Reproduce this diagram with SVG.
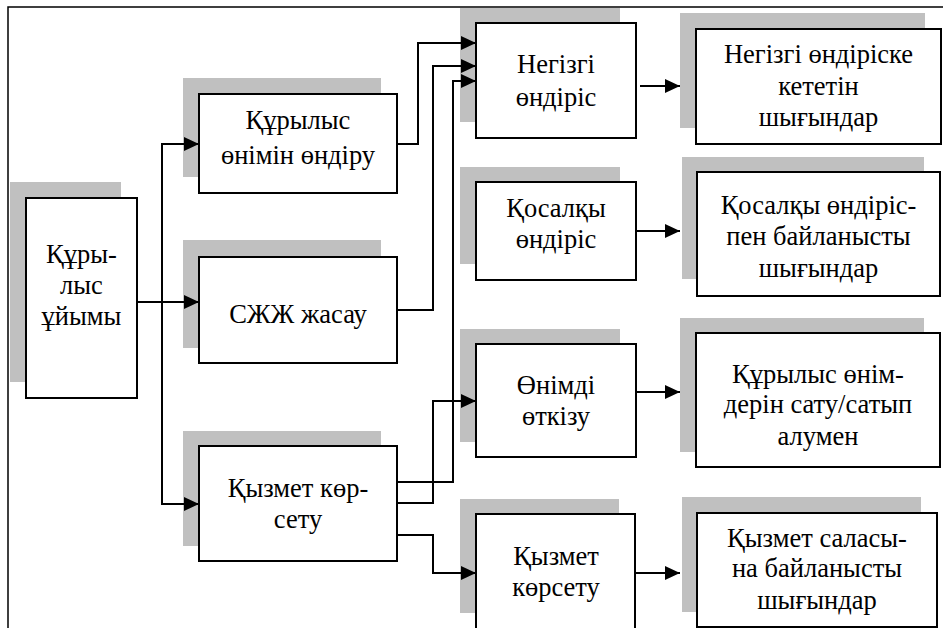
<svg xmlns="http://www.w3.org/2000/svg" width="943" height="628" viewBox="0 0 943 628">
<defs>
<marker id="ah" markerUnits="userSpaceOnUse" markerWidth="16" markerHeight="14" refX="15" refY="7" orient="auto">
<path d="M0,0 L15,7 L0,14 Z" fill="#000"/>
</marker>
<style>
.sh{fill:#c0c0c0;stroke:none}
.bx{fill:#fff;stroke:#000;stroke-width:2}
.t{font-family:'Liberation Serif','Times New Roman',serif;font-size:26.5px;fill:#000;text-anchor:middle}
.c{fill:none;stroke:#000;stroke-width:2}
.fr{fill:none;stroke:#000;stroke-width:1.5}
</style>
</defs>
<rect width="943" height="628" fill="#fff"/>
<path class="fr" d="M8,628 V7 H943"/>

<g id="org">
<rect class="sh" x="10" y="182" width="111" height="200"/>
<rect class="bx" x="26" y="198" width="111" height="200"/>
<text class="t" x="81.5" y="263">Құры-</text>
<text class="t" x="81.5" y="294">лыс</text>
<text class="t" x="81.5" y="325">ұйымы</text>
</g>

<g id="prod">
<rect class="sh" x="183" y="78" width="198" height="99"/>
<rect class="bx" x="199" y="94" width="198" height="99"/>
<text class="t" x="298" y="129">Құрылыс</text>
<text class="t" x="298" y="164">өнімін өндіру</text>
</g>

<g id="sjj">
<rect class="sh" x="183" y="240" width="198" height="108"/>
<rect class="bx" x="199" y="257" width="198" height="106"/>
<text class="t" x="298" y="323">СЖЖ жасау</text>
</g>

<g id="service">
<rect class="sh" x="183" y="431" width="198" height="115"/>
<rect class="bx" x="199" y="446" width="198" height="115"/>
<text class="t" x="298" y="497">Қызмет көр-</text>
<text class="t" x="298" y="528">сету</text>
</g>

<g id="main">
<rect class="sh" x="460" y="8" width="160" height="114"/>
<rect class="bx" x="476" y="23" width="160" height="115"/>
<text class="t" x="556" y="73">Негізгі</text>
<text class="t" x="556" y="106">өндіріс</text>
</g>

<g id="aux">
<rect class="sh" x="460" y="167" width="160" height="97"/>
<rect class="bx" x="476" y="182" width="160" height="98"/>
<text class="t" x="556" y="217">Қосалқы</text>
<text class="t" x="556" y="248">өндіріс</text>
</g>

<g id="sales">
<rect class="sh" x="460" y="329" width="160" height="113"/>
<rect class="bx" x="476" y="344" width="160" height="113"/>
<text class="t" x="556" y="394">Өнімді</text>
<text class="t" x="556" y="425">өткізу</text>
</g>

<g id="serv2">
<rect class="sh" x="460" y="499" width="159" height="114"/>
<rect class="bx" x="476" y="514" width="159" height="120"/>
<text class="t" x="556" y="565">Қызмет</text>
<text class="t" x="556" y="596">көрсету</text>
</g>

<g id="cost-main">
<rect class="sh" x="680" y="13" width="245" height="115"/>
<rect class="bx" x="696" y="29" width="245" height="115"/>
<text class="t" x="818.5" y="63">Негізгі өндіріске</text>
<text class="t" x="818.5" y="95">кететін</text>
<text class="t" x="818.5" y="126">шығындар</text>
</g>

<g id="cost-aux">
<rect class="sh" x="682" y="157" width="242" height="122"/>
<rect class="bx" x="697" y="172" width="243" height="124"/>
<text class="t" x="818.5" y="214">Қосалқы өндіріс-</text>
<text class="t" x="818.5" y="245">пен байланысты</text>
<text class="t" x="818.5" y="277">шығындар</text>
</g>

<g id="cost-sales">
<rect class="sh" x="680" y="318" width="244" height="134"/>
<rect class="bx" x="696" y="333" width="244" height="134"/>
<text class="t" x="818" y="383">Құрылыс өнім-</text>
<text class="t" x="818" y="413">дерін сату/сатып</text>
<text class="t" x="818" y="445">алумен</text>
</g>

<g id="cost-serv">
<rect class="sh" x="682" y="497" width="239" height="115"/>
<rect class="bx" x="697" y="513" width="240" height="114"/>
<text class="t" x="817" y="547">Қызмет саласы-</text>
<text class="t" x="817" y="577">на байланысты</text>
<text class="t" x="817" y="609">шығындар</text>
</g>

<g id="connectors">
<path class="c" d="M137,302 H199" marker-end="url(#ah)"/>
<path class="c" d="M162,302 V144 H199" marker-end="url(#ah)"/>
<path class="c" d="M162,302 V504 H199" marker-end="url(#ah)"/>
<path class="c" d="M397,144 H418 V43 H476" marker-end="url(#ah)"/>
<path class="c" d="M397,310 H433 V66 H476" marker-end="url(#ah)"/>
<path class="c" d="M397,482 H453 V81 H476" marker-end="url(#ah)"/>
<path class="c" d="M397,503 H433 V401 H476" marker-end="url(#ah)"/>
<path class="c" d="M397,535 H433 V573 H476" marker-end="url(#ah)"/>
<path class="c" d="M640,86 H680" marker-end="url(#ah)"/>
<path class="c" d="M636,231 H680" marker-end="url(#ah)"/>
<path class="c" d="M636,392 H680" marker-end="url(#ah)"/>
<path class="c" d="M636,573 H680" marker-end="url(#ah)"/>
</g>
</svg>
